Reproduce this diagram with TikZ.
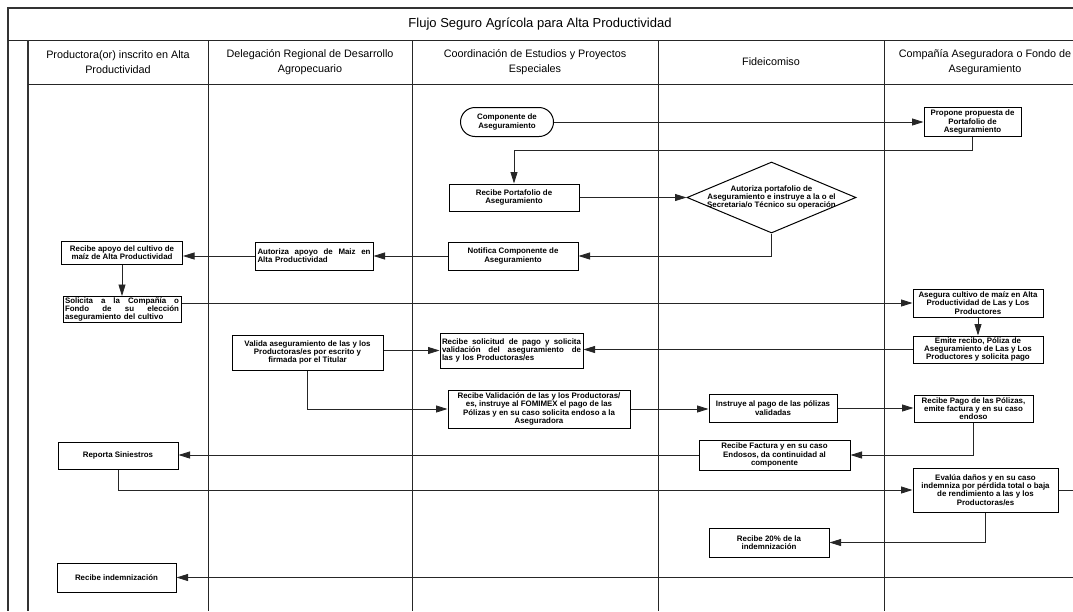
\documentclass[tikz,border=0pt]{standalone}
\usepackage{fontspec}
\setmainfont{Liberation Sans}
\usepackage{tikz}
\usetikzlibrary{arrows.meta,shapes.geometric,shapes.misc,positioning}

\newcommand{\spreadtext}[2]{\makebox[#1][s]{\spaceskip=0pt\relax #2}}

\tikzset{
  lane/.style={draw=black!85, line width=1pt},
  frame/.style={draw=black!80, line width=1.6pt},
  proc/.style={draw, line width=1pt, fill=white, align=center, inner sep=2pt,
    font=\fontsize{7.9}{8.3}\selectfont\bfseries},
  term/.style={proc, rounded rectangle},
  dec/.style={draw, diamond, line width=1pt, fill=white, inner sep=0pt},
  flow/.style={draw=black!85, line width=0.8pt, -{Triangle[length=11.5pt,width=7pt]}},
  link/.style={draw=black!85, line width=0.8pt},
  dims/.style 2 args={minimum width=#1pt, minimum height=#2pt},
  head/.style={align=center, font=\fontsize{10.8}{14.5}\selectfont},
}

\begin{document}
\begin{tikzpicture}[x=1pt, y=-1pt]

            \useasboundingbox (0,0) rectangle (1073,611);

            % Lanes

            \draw[frame] (1080,8) -- (8,8) -- (8,611);
            \draw[lane] (8,40) -- (1080,40);
            \draw[frame] (28,40) -- (28,611);
            \draw[lane] (28,84) -- (1080,84);
            \foreach \x in {208,412,658,884}
              \draw[lane] (\x,40) -- (\x,611);

            \node[font=\fontsize{13}{15}\selectfont] (title) at (540,24) {Flujo Seguro Agrícola para Alta Productividad};
            \node[head] (h1) at (118,62) {Productora(or) inscrito en Alta\\Productividad};
            \node[head] (h2) at (310,62) {Delegación Regional de Desarrollo\\Agropecuario};
            \node[head] (h3) at (535,62) {Coordinación de Estudios y Proyectos\\Especiales};
            \node[head] (h4) at (771,62) {Fideicomiso};
            \node[head] (h5) at (985,62) {Compañía Aseguradora o Fondo de\\Aseguramiento};

            % Nodes

            \node[term, dims={97}{29}] (comp) at (507,122) {Componente de\\Aseguramiento};
            \node[proc, dims={97}{29}, inner sep=1pt] (prop) at (972.5,122) {Propone propuesta de\\Portafolio de\\Aseguramiento};
            \node[proc, dims={130}{27}] (recport) at (514,197.5) {Recibe Portafolio de\\Aseguramiento};
            \node[dec, dims={169}{71},
                  label={[proc, draw=none, fill=none]center:Autoriza portafolio de\\Aseguramiento e instruye a la o el\\Secretaria/o Técnico su operación}]
                  (autport) at (771.5,197.5) {};
            \node[proc, dims={130}{28}] (notif) at (513,256) {Notifica Componente de\\Aseguramiento};
            \node[proc, dims={118}{28}, text width=113pt, align=left] (autapo) at (314,256)
                  {\spreadtext{113pt}{Autoriza apoyo de Maiz en}\\Alta Productividad};
            \node[proc, dims={121}{23}, inner sep=1pt] (recapo) at (122,253) {Recibe apoyo del cultivo de\\maíz de Alta Productividad};
            \node[proc, dims={118}{25}, text width=114pt, align=left, inner sep=1pt, below=31pt of recapo] (solic)
                  {\spreadtext{114pt}{Solicita a la Compañía o}\\\spreadtext{114pt}{Fondo de su elección}\\aseguramiento del cultivo};
            \node[proc, dims={130}{28}, inner sep=1pt] (aseg) at (978,303) {Asegura cultivo de maíz en Alta\\Productividad de Las y Los\\Productores};
            \node[proc, dims={130}{27}, inner sep=1pt, below=18pt of aseg] (emite) {Emite recibo, Póliza de\\Aseguramiento de Las y Los\\Productores y solicita pago};
            \node[proc, dims={151}{35}] (valida) at (307.5,352.5) {Valida aseguramiento de las y los\\Productoras/es por escrito y\\firmada por el Titular};
            \node[proc, dims={143}{35}, text width=139pt, align=left] (recsol) at (511.5,350.5)
                  {\spreadtext{139pt}{Recibe solicitud de pago y solicita}\\\spreadtext{139pt}{validación del aseguramiento de}\\las y los Productoras/es};
            \node[proc, dims={182}{38}, inner sep=1pt] (recval) at (539,409) {Recibe Validación de las y los Productoras/\\es, instruye al FOMIMEX el pago de las\\Pólizas y en su caso solicita endoso a la\\Aseguradora};
            \node[proc, dims={128}{28}] (instr) at (773,408) {Instruye al pago de las pólizas\\validadas};
            \node[proc, dims={119}{27}, inner sep=1pt] (recpago) at (973.5,408.5) {Recibe Pago de las Pólizas,\\emite factura y en su caso\\endoso};
            \node[proc, dims={151}{30}, inner sep=1pt] (recfact) at (774.5,455) {Recibe Factura y en su caso\\Endosos, da continuidad al\\componente};
            \node[proc, dims={120}{27}] (report) at (118,455.5) {Reporta Siniestros};
            \node[proc, dims={145}{44}, inner sep=1pt] (eval) at (985.5,490) {Evalúa daños y en su caso\\indemniza por pérdida total o baja\\de rendimiento a las y los\\Productoras/es};
            \node[proc, dims={120}{29}] (rectwenty) at (769,542.5) {Recibe 20\% de la\\indemnización};
            \node[proc, dims={119}{29}] (recind) at (116.5,577.5) {Recibe indemnización};

            \coordinate (outE) at (1080,490);
            \coordinate (outI) at (1080,577.5);

            % Edges

            \draw[flow] (comp.east) -- (prop.west);
            \draw[flow] (prop.south) -- ++(0,13) -| (recport.north);
            \draw[flow] (recport.east) -- (autport.west);
            \draw[flow] (autport.south) |- (notif.east);
            \draw[flow] (notif.west) -- (autapo.east);
            \draw[flow] (autapo.west) -- (autapo.west -| recapo.east);
            \draw[flow] (recapo.south) -- (solic.north);
            \draw[flow] (solic.east |- aseg.west) -- (aseg.west);
            \draw[flow] (aseg.south) -- (emite.north);
            \draw[flow] (emite.west) -- (emite.west -| recsol.east);
            \draw[flow] (recsol.west -| valida.east) -- (recsol.west);
            \draw[flow] (valida.south) |- (recval.west);
            \draw[flow] (recval.east) -- (recval.east -| instr.west);
            \draw[flow] (instr.east) -- (instr.east -| recpago.west);
            \draw[flow] (recpago.south) |- (recfact.east);
            \draw[flow] (recfact.west) -- (recfact.west -| report.east);
            \draw[flow] (report.south) |- (eval.west);
            \draw[link] (eval.east) -- (outE);
            \draw[flow] (eval.south) |- (rectwenty.east);
            \draw[flow] (outI) -- (outI -| recind.east);

\end{tikzpicture}
\end{document}
